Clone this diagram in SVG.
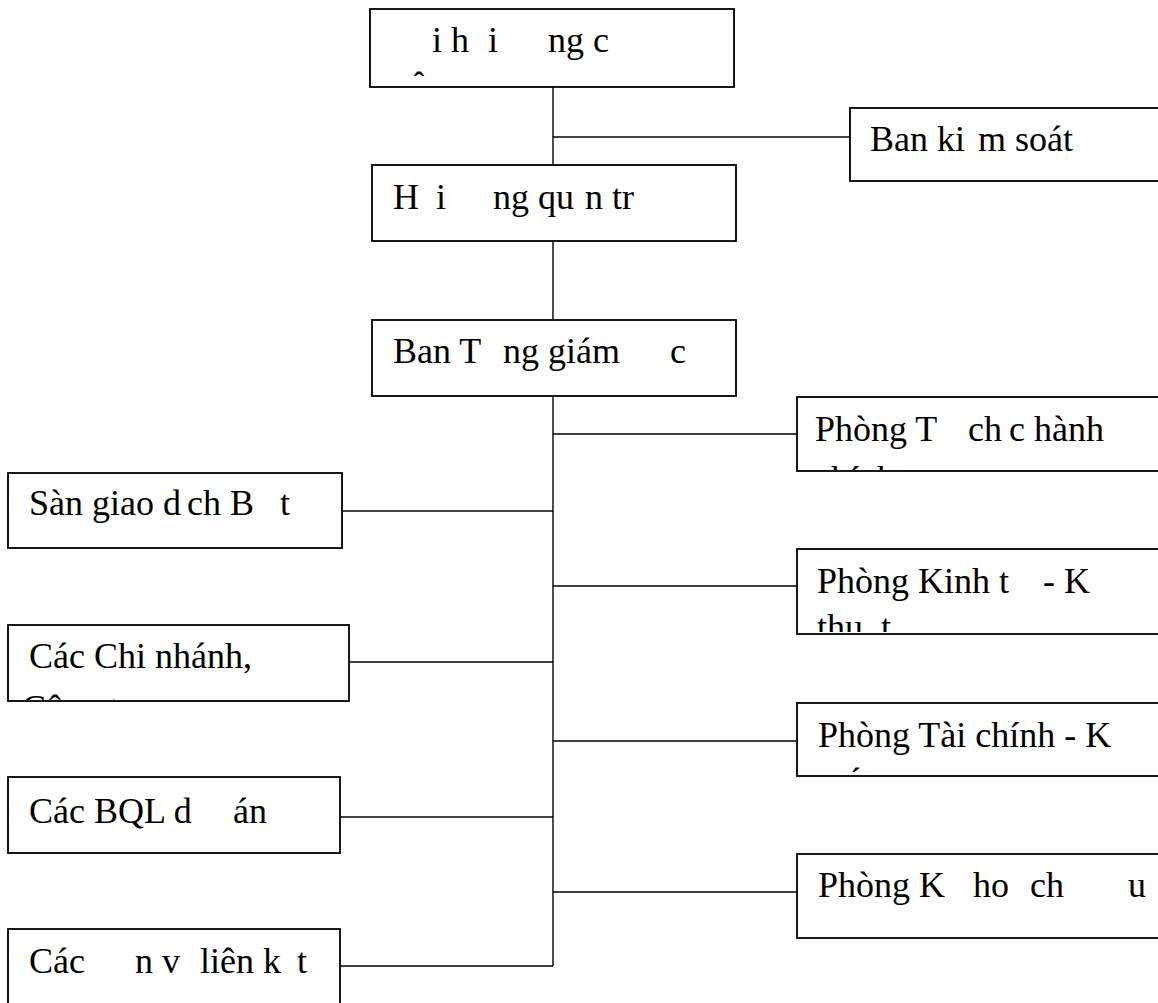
<svg xmlns="http://www.w3.org/2000/svg" width="1158" height="1003" viewBox="0 0 1158 1003">
<style>
.box{fill:#fff;stroke:#000;stroke-width:1.8}
.lbl{font-family:"Liberation Serif","Times New Roman",serif;font-size:36px;fill:#000}
.ln{stroke:#000;stroke-width:1.4;fill:none}
</style>
<defs>
<clipPath id="cTop"><rect x="371" y="10" width="362" height="66"/></clipPath>
<clipPath id="cTCHC"><rect x="798" y="398" width="370" height="72"/></clipPath>
<clipPath id="cKT"><rect x="798" y="550" width="370" height="82"/></clipPath>
<clipPath id="cTCKT"><rect x="798" y="704" width="370" height="68"/></clipPath>
<clipPath id="cCN"><rect x="11" y="626" width="337" height="74"/></clipPath>
</defs>
<g id="connectors">
<line class="ln" x1="553" y1="87" x2="553" y2="165"/>
<line class="ln" x1="553" y1="137" x2="850" y2="137"/>
<line class="ln" x1="553" y1="241" x2="553" y2="320"/>
<line class="ln" x1="553" y1="396" x2="553" y2="966"/>
<line class="ln" x1="553" y1="434" x2="797" y2="434"/>
<line class="ln" x1="553" y1="586" x2="797" y2="586"/>
<line class="ln" x1="553" y1="741" x2="797" y2="741"/>
<line class="ln" x1="553" y1="892" x2="797" y2="892"/>
<line class="ln" x1="342" y1="511" x2="553" y2="511"/>
<line class="ln" x1="342" y1="662" x2="553" y2="662"/>
<line class="ln" x1="340" y1="817" x2="553" y2="817"/>
<line class="ln" x1="340" y1="966" x2="553" y2="966"/>
</g>
<g id="dhdcd">
<rect class="box" x="370" y="9" width="364" height="78"/>
<text class="lbl" y="52"><tspan x="432">i h</tspan><tspan x="488">i</tspan><tspan x="548">ng c</tspan></text>
<text class="lbl" y="97" clip-path="url(#cTop)"><tspan x="410">ô</tspan></text>
</g>
<g id="bks">
<rect class="box" x="850" y="108" width="320" height="73"/>
<text class="lbl" y="151"><tspan x="870">Ban ki</tspan><tspan x="978">m soát</tspan></text>
</g>
<g id="hdqt">
<rect class="box" x="372" y="165" width="364" height="76"/>
<text class="lbl" y="209"><tspan x="393">H</tspan><tspan x="436">i</tspan><tspan x="493">ng qu</tspan><tspan x="585">n tr</tspan></text>
</g>
<g id="btgd">
<rect class="box" x="372" y="320" width="364" height="76"/>
<text class="lbl" y="363"><tspan x="393">Ban T</tspan><tspan x="503">ng giám</tspan><tspan x="670">c</tspan></text>
</g>
<g id="tchc">
<rect class="box" x="797" y="397" width="373" height="74"/>
<text class="lbl" y="441"><tspan x="815">Phòng T</tspan><tspan x="968">ch</tspan><tspan x="1009">c hành</tspan></text>
<text class="lbl" y="491" x="815" clip-path="url(#cTCHC)">chính</text>
</g>
<g id="ktkt">
<rect class="box" x="797" y="549" width="373" height="85"/>
<text class="lbl" y="593"><tspan x="817">Phòng Kinh t</tspan><tspan x="1043">- K</tspan></text>
<text class="lbl" y="639" clip-path="url(#cKT)"><tspan x="817">thu</tspan><tspan x="881">t</tspan></text>
</g>
<g id="tckt">
<rect class="box" x="797" y="703" width="373" height="73"/>
<text class="lbl" y="747" x="818">Phòng Tài chính - K</text>
<text class="lbl" y="793" x="818" clip-path="url(#cTCKT)">toán</text>
</g>
<g id="khdt">
<rect class="box" x="797" y="854" width="373" height="84"/>
<text class="lbl" y="897"><tspan x="818">Phòng K</tspan><tspan x="973">ho</tspan><tspan x="1030">ch</tspan><tspan x="1128">u</tspan></text>
</g>
<g id="sgd">
<rect class="box" x="8" y="473" width="334" height="75"/>
<text class="lbl" y="515"><tspan x="29">Sàn giao d</tspan><tspan x="187">ch B</tspan><tspan x="280">t</tspan></text>
</g>
<g id="chinhanh">
<rect class="box" x="8" y="625" width="341" height="76"/>
<text class="lbl" y="668" x="29">Các Chi nhánh,</text>
<text class="lbl" y="720" x="22" clip-path="url(#cCN)">Công ty</text>
</g>
<g id="bql">
<rect class="box" x="8" y="777" width="332" height="76"/>
<text class="lbl" y="823"><tspan x="29">Các BQL d</tspan><tspan x="233">án</tspan></text>
</g>
<g id="dvlk">
<rect class="box" x="8" y="929" width="332" height="90"/>
<text class="lbl" y="973"><tspan x="29">Các</tspan><tspan x="135">n v</tspan><tspan x="200">liên k</tspan><tspan x="297">t</tspan></text>
</g>
</svg>
